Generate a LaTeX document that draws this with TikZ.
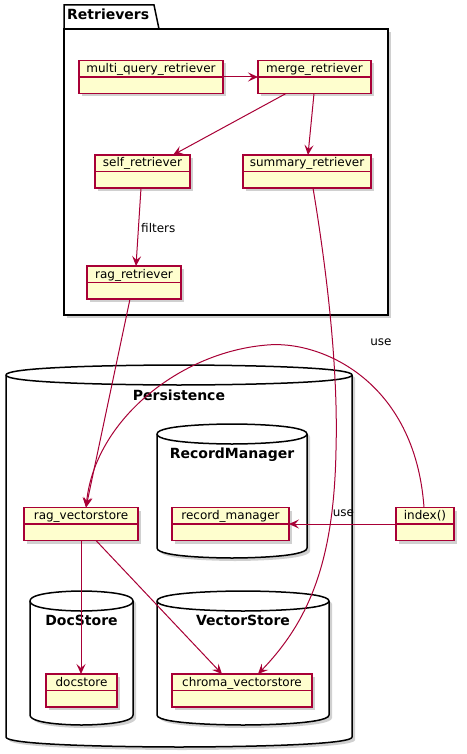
\documentclass[tikz,border=0pt]{standalone}
\usepackage{fontspec}
\setmainfont{DejaVu Sans}
\usetikzlibrary{arrows.meta,shadows}
\definecolor{umlred}{HTML}{A80036}
\definecolor{umlfill}{HTML}{FEFECE}
\tikzset{
 obj/.style={draw=umlred, fill=umlfill, line width=1.5pt, minimum height=33pt, inner sep=0pt, outer sep=0pt,
   drop shadow={shadow xshift=3pt,shadow yshift=-3pt,opacity=0.3,fill=black!60}},
 objtext/.style={font=\fontsize{12}{14}\selectfont, inner sep=0pt},
 lbl/.style={font=\fontsize{12}{14}\selectfont, inner sep=0pt},
 ttl/.style={font=\fontsize{14}{16}\selectfont\bfseries, inner sep=0pt},
 conn/.style={draw=umlred, line width=1pt, -{Stealth[length=10pt,width=9pt,inset=4pt]}},
 dbbody/.style={draw=black, line width=1.5pt, fill=white},
 dbshadow/.style={fill=black!60, opacity=0.3},
 dbrim/.style={draw=black, line width=1.5pt},
}
\newcommand\obj[5]{%
 \node[obj, minimum width=#4pt] (#1) at (#2,#3) {};
 \draw[umlred, line width=1.5pt] (#1.west) -- (#1.east);
 \node[objtext, anchor=base] (#1-t) at ([yshift=-12pt]#1.north) {#5};
}
\newcommand\dbcyl[4]{%
 \pgfmathsetmacro\dbmid{(#1+#2)/2}%
 \fill[dbshadow, shift={(3,3)}] (#1,#3+10) .. controls (#1,#3) and (\dbmid,#3) .. (\dbmid,#3) .. controls (\dbmid,#3) and (#2,#3) .. (#2,#3+10) -- (#2,#4-10) .. controls (#2,#4) and (\dbmid,#4) .. (\dbmid,#4) .. controls (\dbmid,#4) and (#1,#4) .. (#1,#4-10) -- cycle;
 \draw[dbbody] (#1,#3+10) .. controls (#1,#3) and (\dbmid,#3) .. (\dbmid,#3) .. controls (\dbmid,#3) and (#2,#3) .. (#2,#3+10) -- (#2,#4-10) .. controls (#2,#4) and (\dbmid,#4) .. (\dbmid,#4) .. controls (\dbmid,#4) and (#1,#4) .. (#1,#4-10) -- cycle;
 \draw[dbrim] (#1,#3+10) .. controls (#1,#3+20) and (\dbmid,#3+20) .. (\dbmid,#3+20) .. controls (\dbmid,#3+20) and (#2,#3+20) .. (#2,#3+10);
}
\begin{document}
\begin{tikzpicture}[x=1pt,y=-1pt]
\useasboundingbox[fill=white] (0,0) rectangle (466,754);
% Retrievers package
\fill[dbshadow] (67,32) rectangle (391,318);
\draw[line width=1.5pt, fill=white] (64,29) rectangle (388,315);
\draw[line width=1.5pt, fill=white] (64,29) -- (64,5) -- (154,5) -- (159,29) -- cycle;
\node[ttl, anchor=base west] (rettitle) at (67,20) {Retrievers};
% Persistence
\dbcyl{6}{352}{365}{747}
\node[ttl, anchor=base] (perstitle) at (179,400) {Persistence};
\dbcyl{157}{307}{424}{558}
\node[ttl, anchor=base] (rmtitle) at (232,458) {RecordManager};
\dbcyl{30}{133}{591}{725}
\node[ttl, anchor=base] (dstitle) at (81.5,625) {DocStore};
\dbcyl{157}{329}{591}{725}
\node[ttl, anchor=base] (vstitle) at (243,625) {VectorStore};
% objects
\obj{mq}{151}{77}{144}{multi\_query\_retriever}
\obj{merge}{314.5}{77}{113}{merge\_retriever}
\obj{self}{142.5}{171.5}{95}{self\_retriever}
\obj{summary}{307}{171.5}{128}{summary\_retriever}
\obj{ragr}{134}{282.5}{94}{rag\_retriever}
\obj{ragvs}{81}{524}{114}{rag\_vectorstore}
\obj{recm}{230.5}{524}{117}{record\_manager}
\obj{index}{425}{524}{58}{index()}
\obj{docs}{81.5}{690.5}{71}{docstore}
\obj{chroma}{242}{690.5}{140}{chroma\_vectorstore}
% connectors
\draw[conn] (mq.east) -- (merge.west);
\draw[conn] ([xshift=-28.5pt]merge.south) -- ([xshift=30.5pt]self.north);
\draw[conn] ([xshift=-0.5pt]merge.south) -- ([xshift=1pt]summary.north);
\draw[conn] ([xshift=-1.5pt]self.south) -- ([xshift=2pt]ragr.north);
\node[lbl, anchor=base west] (filterslbl) at (141,232) {filters};
\draw[conn] ([xshift=-4pt]ragr.south) -- ([xshift=5pt]ragvs.north);
\draw[conn] ([xshift=6pt]summary.south) .. controls (330,290) and (338,380) .. (336,450) .. controls (334,560) and (310,620) .. ([xshift=16pt]chroma.north);
\draw[conn] (ragvs.south) -- (ragvs.south |- docs.north);
\draw[conn] ([xshift=15pt]ragvs.south) -- ([xshift=-20pt]chroma.north);
\draw[conn] ([xshift=-1pt]index.north) .. controls (415,380) and (320,340) .. (267,345) .. controls (180,352) and (95,420) .. ([xshift=5pt]ragvs.north);
\node[lbl, anchor=base] (uselbl1) at (381,345) {use};
\draw[conn] (index.west) -- (recm.east);
\node[lbl, anchor=base] (uselbl2) at (343.5,516) {use};
\end{tikzpicture}
\end{document}
